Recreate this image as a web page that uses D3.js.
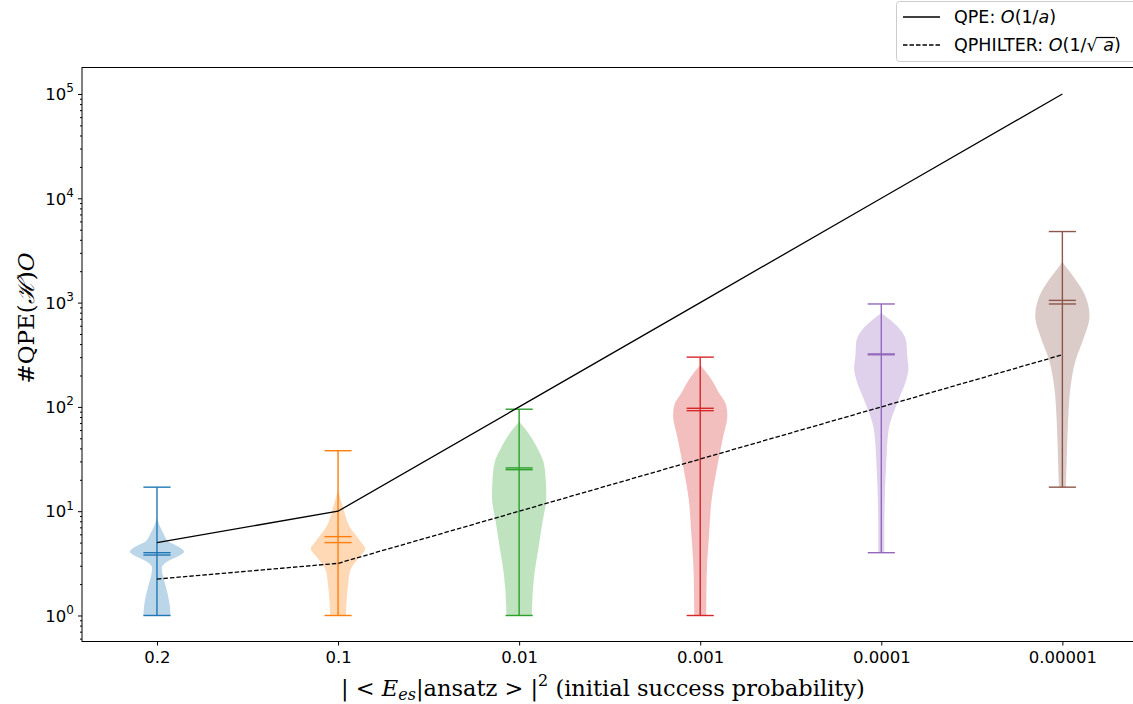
<!DOCTYPE html>
<html>
<head>
<meta charset="utf-8">
<script src="https://cdn.jsdelivr.net/npm/d3@7"></script>
<style>
  html, body { margin: 0; padding: 0; background: #fff; }
  svg { display: block; }
  text { font-family: "DejaVu Sans", sans-serif; fill: #000; }
  .serif { font-family: "DejaVu Serif", "Liberation Serif", serif; }
</style>
</head>
<body>
<svg id="chart" width="1133" height="704"></svg>
<script>
// categories (initial success probability)
const categories = ["0.2", "0.1", "0.01", "0.001", "0.0001", "0.00001"];
const colors = ["#1f77b4", "#ff7f0e", "#2ca02c", "#d62728", "#9467bd", "#8c564b"];

// violin statistics
const mins    = [1, 1, 1, 1, 4, 17];
const maxs    = [17, 38, 95, 300, 970, 4800];
const means   = [4.0, 5.7, 26, 97, 322, 1050];
const medians = [3.8, 5.0, 25, 92, 316, 970];

// violin outlines: exponent (log10 of value) and relative half-width
const blueExp    = [0, 0.1, 0.2, 0.3, 0.4, 0.46, 0.52, 0.57, 0.61, 0.66, 0.71, 0.79, 0.86, 0.935];
const blueWidth  = [0.5, 0.47, 0.4, 0.3, 0.2, 0.18, 0.4, 0.8, 1.0, 0.8, 0.42, 0.23, 0.1, 0];
const orangeExp   = [0, 0.12, 0.3, 0.44, 0.55, 0.64, 0.72, 0.85, 0.95, 1.04, 1.13, 1.2];
const orangeWidth = [0.29, 0.31, 0.37, 0.46, 0.75, 1.0, 0.8, 0.43, 0.28, 0.18, 0.08, 0];
const greenExp   = [0, 0.12, 0.37, 0.63, 0.88, 1.14, 1.3, 1.47, 1.58, 1.68, 1.78, 1.86];
const greenWidth = [0.47, 0.48, 0.55, 0.7, 0.85, 1.0, 0.98, 0.9, 0.72, 0.51, 0.25, 0];
const redExp   = [0, 0.4, 0.79, 1.11, 1.43, 1.71, 1.92, 2.02, 2.13, 2.26, 2.34, 2.4];
const redWidth = [0.22, 0.24, 0.33, 0.42, 0.63, 0.84, 1.0, 0.95, 0.7, 0.42, 0.2, 0];
const purpleExp   = [0.602, 0.8, 1.04, 1.46, 1.78, 2.07, 2.26, 2.37, 2.5, 2.61, 2.77, 2.84, 2.9];
const purpleWidth = [0.11, 0.11, 0.12, 0.18, 0.27, 0.64, 0.92, 1.0, 0.95, 0.93, 0.6, 0.3, 0];
const brownExp   = [1.233, 1.49, 1.87, 2.19, 2.45, 2.67, 2.87, 3.09, 3.22, 3.32, 3.39];
const brownWidth = [0.13, 0.16, 0.21, 0.3, 0.49, 0.8, 1.0, 0.8, 0.49, 0.2, 0];

const profiles = [
  [blueExp, blueWidth], [orangeExp, orangeWidth], [greenExp, greenWidth],
  [redExp, redWidth], [purpleExp, purpleWidth], [brownExp, brownWidth]
];

// reference scaling lines
const qpe      = [5, 10, 100, 1000, 10000, 100000];
const qphilter = [2.236, 3.162, 10, 31.62, 100, 316.2];

const yTicks = [1, 10, 100, 1000, 10000, 100000];

const size = {
  width: 1133, height: 704,
  margin: { top: 67.5, right: 0, bottom: 62.5, left: 82 }
};
const svg = d3.select("#chart");

const x = d3.scaleLinear()
  .domain([0.586, 6.39])
  .range([size.margin.left, size.width]);

const y = d3.scaleLog()
  .domain([Math.pow(10, -0.2493), Math.pow(10, 5.254)])
  .range([size.height - size.margin.bottom, size.margin.top]);

const halfWidth = 0.15; // in position units
const capHalf = 0.075;

// violin bodies
profiles.forEach((p, i) => {
  const pos = i + 1;
  const pts = p[0].map((e, k) => ({ v: Math.pow(10, e), w: p[1][k] }));
  const area = d3.area()
    .y(d => y(d.v))
    .x0(d => x(pos - halfWidth * d.w))
    .x1(d => x(pos + halfWidth * d.w))
    .curve(d3.curveMonotoneY);
  svg.append("path")
    .datum(pts)
    .attr("d", area)
    .attr("fill", colors[i])
    .attr("fill-opacity", 0.3)
    .attr("stroke", "none");
});

// bars, caps, mean and median lines
categories.forEach((c, i) => {
  const pos = i + 1;
  const g = svg.append("g").attr("stroke", colors[i]).attr("stroke-width", 1.4);
  g.append("line")
    .attr("x1", x(pos)).attr("x2", x(pos))
    .attr("y1", y(mins[i])).attr("y2", y(maxs[i]));
  [mins[i], maxs[i], means[i], medians[i]].forEach(v => {
    g.append("line")
      .attr("x1", x(pos - capHalf)).attr("x2", x(pos + capHalf))
      .attr("y1", y(v)).attr("y2", y(v));
  });
});

// scaling lines
const line = d3.line()
  .x((d, i) => x(i + 1))
  .y(d => y(d));

svg.append("path")
  .datum(qpe)
  .attr("d", line)
  .attr("fill", "none")
  .attr("stroke", "#000")
  .attr("stroke-width", 1.3);

svg.append("path")
  .datum(qphilter)
  .attr("d", line)
  .attr("fill", "none")
  .attr("stroke", "#000")
  .attr("stroke-width", 1.3)
  .attr("stroke-dasharray", "4.5,2");

// axes
const xAxis = svg.append("g")
  .attr("transform", `translate(0, ${size.height - size.margin.bottom})`)
  .call(d3.axisBottom(x)
    .tickValues(d3.range(1, 7))
    .tickFormat(d => categories[d - 1])
    .tickSizeInner(4)
    .tickSizeOuter(0)
    .tickPadding(6));
xAxis.select(".domain").remove();
xAxis.selectAll("text").attr("font-size", 16.5).attr("font-family", "DejaVu Sans");

const minorTicks = [];
for (let e = -1; e <= 5; e++) {
  for (let m = 2; m <= 9; m++) {
    const v = m * Math.pow(10, e);
    if (v > y.domain()[0] && v < y.domain()[1]) minorTicks.push(v);
  }
}
const yMinor = svg.append("g")
  .attr("transform", `translate(${size.margin.left}, 0)`)
  .call(d3.axisLeft(y).tickValues(minorTicks).tickFormat("").tickSizeInner(2).tickSizeOuter(0));
yMinor.select(".domain").remove();

const yAxis = svg.append("g")
  .attr("transform", `translate(${size.margin.left}, 0)`)
  .call(d3.axisLeft(y).tickValues(yTicks).tickFormat("").tickSizeInner(4).tickSizeOuter(0));
yAxis.select(".domain").remove();
yAxis.selectAll(".tick").each(function(d) {
  const t = d3.select(this).append("text")
    .attr("x", -8)
    .attr("dy", "0.35em")
    .attr("text-anchor", "end")
    .attr("font-size", 16.5)
    .attr("fill", "#000");
  t.append("tspan").text("10");
  t.append("tspan")
    .attr("font-size", 12)
    .attr("dy", "-0.65em")
    .text(Math.round(Math.log10(d)));
});

// spines
svg.append("rect")
  .attr("x", size.margin.left)
  .attr("y", size.margin.top)
  .attr("width", size.width + 2 - size.margin.left)
  .attr("height", size.height - size.margin.bottom - size.margin.top)
  .attr("fill", "none")
  .attr("stroke", "#000")
  .attr("stroke-width", 1);

// axis labels
const xl = svg.append("text")
  .attr("class", "serif")
  .attr("x", 603)
  .attr("y", 696)
  .attr("text-anchor", "middle")
  .attr("font-size", 22.5);
xl.append("tspan").text("| < ");
xl.append("tspan").attr("font-style", "italic").text("E");
xl.append("tspan").attr("font-style", "italic").attr("font-size", 16).attr("dy", 4).text("es");
xl.append("tspan").attr("dy", -4).text("|ansatz > |");
xl.append("tspan").attr("font-size", 16).attr("dy", -10).text("2");
xl.append("tspan").attr("dy", 10).text(" (initial success probability)");

const yl = svg.append("text")
  .attr("class", "serif")
  .attr("transform", "translate(34, 318) rotate(-90)")
  .attr("text-anchor", "middle")
  .attr("font-size", 23);
yl.append("tspan").text("#QPE(");
yl.append("tspan").attr("font-style", "italic").text("ℋ");
yl.append("tspan").text(")");
yl.append("tspan").attr("font-style", "italic").text("O");

// legend
const legend = svg.append("g");
legend.append("rect")
  .attr("x", 896.5).attr("y", 1.5)
  .attr("width", 260).attr("height", 60)
  .attr("rx", 3)
  .attr("fill", "#fff").attr("fill-opacity", 0.8)
  .attr("stroke", "#ccc").attr("stroke-width", 1);
legend.append("line")
  .attr("x1", 903).attr("x2", 940).attr("y1", 17).attr("y2", 17)
  .attr("stroke", "#000").attr("stroke-width", 1.3);
legend.append("line")
  .attr("x1", 903).attr("x2", 940).attr("y1", 45).attr("y2", 45)
  .attr("stroke", "#000").attr("stroke-width", 1.3).attr("stroke-dasharray", "4.5,2");

const l1 = legend.append("text").attr("x", 954).attr("y", 23).attr("font-size", 17.5);
l1.append("tspan").text("QPE: ");
l1.append("tspan").attr("font-style", "italic").text("O");
l1.append("tspan").text("(1/");
l1.append("tspan").attr("font-style", "italic").text("a");
l1.append("tspan").text(")");

const l2 = legend.append("text").attr("x", 954).attr("y", 51).attr("font-size", 17.5);
l2.append("tspan").text("QPHILTER: ");
l2.append("tspan").attr("font-style", "italic").text("O");
l2.append("tspan").text("(1/√");
l2.append("tspan").attr("font-style", "italic").text(" a");
l2.append("tspan").text(")");
// overline over the radicand
const full = "QPHILTER: O(1/√ a)";
const ai = full.lastIndexOf("a");
const ext = l2.node().getExtentOfChar(ai);
const sq = l2.node().getExtentOfChar(ai - 2);
legend.append("line")
  .attr("x1", sq.x + sq.width - 1).attr("x2", ext.x + ext.width + 1)
  .attr("y1", sq.y + 2.5).attr("y2", sq.y + 2.5)
  .attr("stroke", "#000").attr("stroke-width", 1.2);
</script>
</body>
</html>
